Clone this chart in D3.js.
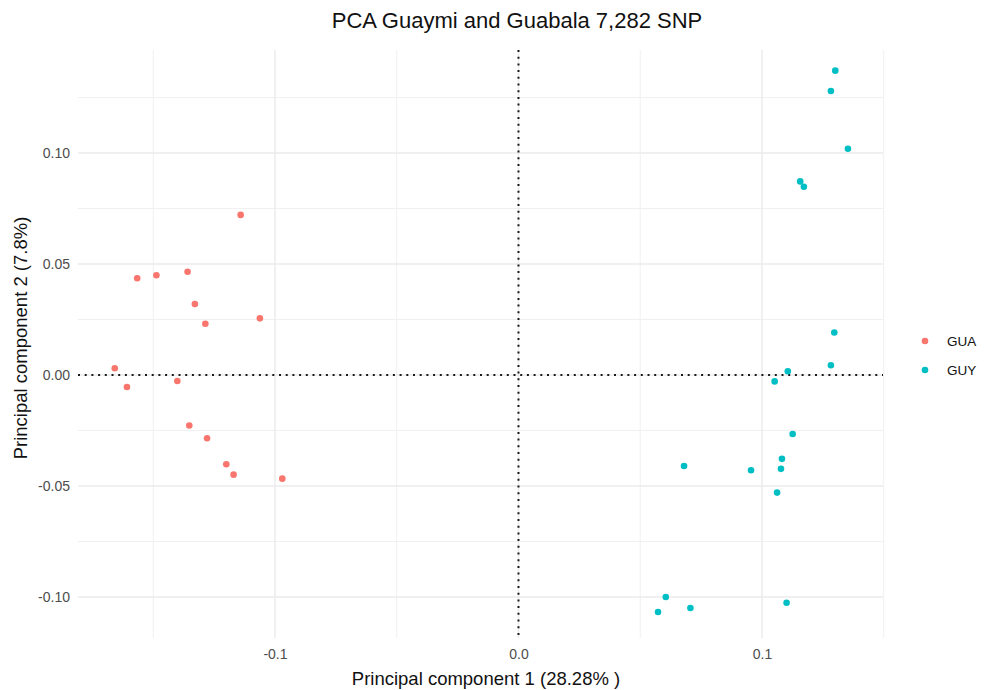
<!DOCTYPE html>
<html>
<head>
<meta charset="utf-8">
<script src="https://cdn.jsdelivr.net/npm/d3@7"></script>
<style>
  html, body { margin: 0; padding: 0; background: #fff; }
  svg { display: block; font-family: "Liberation Sans", Arial, sans-serif; }
</style>
</head>
<body>
<svg id="chart" width="988" height="690"></svg>
<script>
// PC1 / PC2
const guaPC1 = [-0.1141, -0.1566, -0.1487, -0.1359, -0.1329, -0.1286, -0.1062, -0.1658,
  -0.1608, -0.1401, -0.1352, -0.1279, -0.1200, -0.1170, -0.0970];
const guaPC2 = [0.0721, 0.0436, 0.0449, 0.0465, 0.0320, 0.0231, 0.0255, 0.0030,
  -0.0054, -0.0027, -0.0228, -0.0285, -0.0402, -0.0449, -0.0467];

const guyPC1 = [0.1301, 0.1283, 0.1353, 0.1157, 0.1172, 0.1297, 0.1283, 0.1106, 0.1052,
  0.1126, 0.1082, 0.1078, 0.0680, 0.0955, 0.1062, 0.0605, 0.0706, 0.1101, 0.0573];
const guyPC2 = [0.1371, 0.1279, 0.1019, 0.0872, 0.0848, 0.0191, 0.0044, 0.0017, -0.0029,
  -0.0266, -0.0378, -0.0423, -0.0410, -0.0429, -0.0530, -0.1000, -0.1050, -0.1026, -0.1068];

const groups = ["GUA", "GUY"];
const groupColors = ["#F8766D", "#00BFC4"];

const xLimits = [-0.1809, 0.1497];
const yLimits = [-0.1185, 0.1464];
const xTicks = [-0.1, 0.0, 0.1];
const xMinor = [-0.15, -0.05, 0.05, 0.15];
const yTicks = [-0.10, -0.05, 0.00, 0.05, 0.10];
const yMinor = [-0.075, -0.025, 0.025, 0.075, 0.125];

const title = "PCA Guaymi and Guabala 7,282 SNP";
const xTitle = "Principal component 1 (28.28% )";
const yTitle = "Principal component 2 (7.8%)";

const points = [];
guaPC1.forEach((v, i) => points.push({ pc1: v, pc2: guaPC2[i], group: "GUA" }));
guyPC1.forEach((v, i) => points.push({ pc1: v, pc2: guyPC2[i], group: "GUY" }));

const svg = d3.select("#chart");
const panel = { left: 78, right: 883, top: 50, bottom: 638 };

const x = d3.scaleLinear().domain(xLimits).range([panel.left, panel.right]);
const y = d3.scaleLinear().domain(yLimits).range([panel.bottom, panel.top]);
const color = d3.scaleOrdinal().domain(groups).range(groupColors);

// plain hyphen for negatives, like R
const fmt = (p) => (d) => d3.format(p)(d).replace("\u2212", "-");

// grid
const grid = svg.append("g");
grid.selectAll(".xminor").data(xMinor.filter((d) => x(d) <= panel.right + 1)).enter().append("line")
  .attr("x1", (d) => x(d)).attr("x2", (d) => x(d)).attr("y1", panel.top).attr("y2", panel.bottom)
  .attr("stroke", "#f0f0f0").attr("stroke-width", 1);
grid.selectAll(".yminor").data(yMinor.filter((d) => y(d) >= panel.top)).enter().append("line")
  .attr("x1", panel.left).attr("x2", panel.right).attr("y1", (d) => y(d)).attr("y2", (d) => y(d))
  .attr("stroke", "#f0f0f0").attr("stroke-width", 1);
grid.selectAll(".xmajor").data(xTicks).enter().append("line")
  .attr("x1", (d) => x(d)).attr("x2", (d) => x(d)).attr("y1", panel.top).attr("y2", panel.bottom)
  .attr("stroke", "#ebebeb").attr("stroke-width", 1.4);
grid.selectAll(".ymajor").data(yTicks).enter().append("line")
  .attr("x1", panel.left).attr("x2", panel.right).attr("y1", (d) => y(d)).attr("y2", (d) => y(d))
  .attr("stroke", "#ebebeb").attr("stroke-width", 1.4);

// axes (ticks hidden, labels only)
const xAxis = svg.append("g").attr("transform", `translate(0,${panel.bottom})`)
  .call(d3.axisBottom(x).tickValues(xTicks).tickSize(0).tickPadding(11).tickFormat(fmt(".1f")));
const yAxis = svg.append("g").attr("transform", `translate(${panel.left},0)`)
  .call(d3.axisLeft(y).tickValues(yTicks).tickSize(0).tickPadding(8).tickFormat(fmt(".2f")));
[xAxis, yAxis].forEach((a) => {
  a.select(".domain").remove();
  a.selectAll("text").attr("fill", "#4d4d4d").style("font-size", "14px")
    .style("font-family", "'Liberation Sans', Arial, sans-serif");
});

// zero reference lines
svg.append("line")
  .attr("x1", panel.left).attr("x2", panel.right).attr("y1", y(0)).attr("y2", y(0))
  .attr("stroke", "#1a1a1a").attr("stroke-width", 2).attr("stroke-dasharray", "2,4.7");
svg.append("line")
  .attr("x1", x(0)).attr("x2", x(0)).attr("y1", panel.top).attr("y2", panel.bottom)
  .attr("stroke", "#1a1a1a").attr("stroke-width", 2).attr("stroke-dasharray", "2,4.7");

// points
svg.append("g").selectAll("circle").data(points).enter().append("circle")
  .attr("cx", (d) => x(d.pc1)).attr("cy", (d) => y(d.pc2)).attr("r", 3.3)
  .attr("fill", (d) => color(d.group));

// titles
svg.append("text").attr("x", 517).attr("y", 28).attr("text-anchor", "middle")
  .style("font-size", "22px").attr("fill", "#111").text(title);
svg.append("text").attr("x", 486).attr("y", 685).attr("text-anchor", "middle")
  .style("font-size", "18.5px").attr("fill", "#111").text(xTitle);
svg.append("text").attr("transform", `translate(27,${(panel.top + panel.bottom) / 2 - 6}) rotate(-90)`)
  .attr("text-anchor", "middle").style("font-size", "18.5px").attr("fill", "#111").text(yTitle);

// legend
const legend = svg.append("g").selectAll("g").data(groups).enter().append("g")
  .attr("transform", (d, i) => `translate(925,${341 + i * 29})`);
legend.append("circle").attr("r", 3.3).attr("fill", (d) => color(d));
legend.append("text").attr("x", 22).attr("dy", "0.35em").style("font-size", "13.5px")
  .attr("fill", "#111").text((d) => d);
</script>
</body>
</html>
